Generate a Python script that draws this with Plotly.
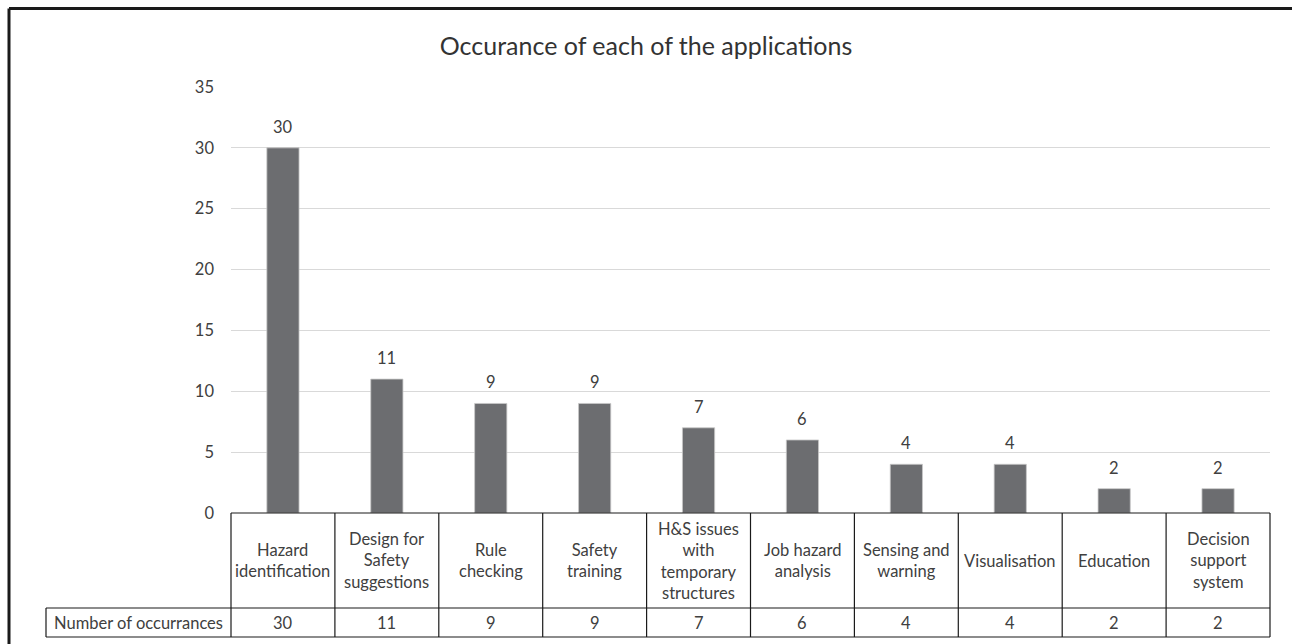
import plotly.graph_objects as go

categories = ["Hazard<br>identification", "Design for<br>Safety<br>suggestions", "Rule<br>checking",
              "Safety<br>training", "H&S issues<br>with<br>temporary<br>structures", "Job hazard<br>analysis",
              "Sensing and<br>warning", "Visualisation", "Education", "Decision<br>support<br>system"]
values = [30, 11, 9, 9, 7, 6, 4, 4, 2, 2]
series_name = "Number of occurrances"
title = "Occurance of each of the applications"
y_ticks = [0, 5, 10, 15, 20, 25, 30, 35]

W, H = 1292, 644
L, R, T, B = 231, 1270, 87, 513  # plot area in pixels
FONT = "Lato, 'Open Sans', sans-serif"
TXT = "#404040"
FS = 16.5


def px(x):
    return (x - L) / (R - L)


def py(y):
    return (B - y) / (B - T)


idx = list(range(len(categories)))

fig = go.Figure(go.Bar(
    x=idx, y=values, width=0.31,
    marker=dict(color="#6c6d70", line=dict(color="#c8c8c8", width=0.8)),
    hoverinfo="skip",
))

annotations = []
# value labels above bars
for i, v in zip(idx, values):
    annotations.append(dict(x=i, y=v, xref="x", yref="y", text=str(v), showarrow=False,
                            xanchor="center", yanchor="bottom", yshift=9,
                            font=dict(size=FS, color=TXT, family=FONT)))
# category labels and values in the table
for i, c in zip(idx, categories):
    annotations.append(dict(x=i, y=py(560.5), xref="x", yref="paper", text=c, showarrow=False,
                            xanchor="center", yanchor="middle", font=dict(size=FS, color=TXT, family=FONT)))
    annotations.append(dict(x=i, y=py(622.5), xref="x", yref="paper", text=str(values[i]), showarrow=False,
                            xanchor="center", yanchor="middle", font=dict(size=FS, color=TXT, family=FONT)))
annotations.append(dict(x=px(138.5), y=py(622.5), xref="paper", yref="paper", text=series_name,
                        showarrow=False, xanchor="center", yanchor="middle",
                        font=dict(size=FS, color=TXT, family=FONT)))

shapes = []
line = dict(color="#1a1a1a", width=1.2)
# table horizontal lines
shapes.append(dict(type="line", xref="paper", yref="paper", x0=0, x1=1, y0=py(513), y1=py(513), line=line))
shapes.append(dict(type="line", xref="paper", yref="paper", x0=px(46), x1=1, y0=py(608), y1=py(608), line=line))
shapes.append(dict(type="line", xref="paper", yref="paper", x0=px(46), x1=1, y0=py(637), y1=py(637), line=line))
# table vertical lines
for k in range(len(categories) + 1):
    xk = k / len(categories)
    shapes.append(dict(type="line", xref="paper", yref="paper", x0=xk, x1=xk, y0=py(513), y1=py(637), line=line))
shapes.append(dict(type="line", xref="paper", yref="paper", x0=px(46), x1=px(46), y0=py(608), y1=py(637), line=line))
# outer border (top and left)
border = dict(color="#1a1a1a", width=3)
shapes.append(dict(type="line", xref="paper", yref="paper", x0=px(9), x1=px(W + 5), y0=py(8.5), y1=py(8.5), line=border))
shapes.append(dict(type="line", xref="paper", yref="paper", x0=px(9), x1=px(9), y0=py(8.5), y1=py(H + 5), line=border))

fig.update_layout(
    width=W, height=H,
    margin=dict(l=L, r=W - R, t=T, b=H - B, pad=0),
    paper_bgcolor="white", plot_bgcolor="white",
    showlegend=False,
    title=dict(text=title, x=0.5, xanchor="center", y=1 - 46 / H, yanchor="middle",
               font=dict(size=25, color="#333333", family=FONT)),
    xaxis=dict(range=[-0.5, len(categories) - 0.5], showticklabels=False, showgrid=False,
               zeroline=False, showline=False, ticks="", fixedrange=True),
    yaxis=dict(range=[0, 35], tickvals=y_ticks, showgrid=True, gridcolor="#d9d9d9", gridwidth=1.3,
               zeroline=False, showline=False, ticks="", ticklabelstandoff=16,
               tickfont=dict(size=FS, color=TXT, family=FONT), fixedrange=True),
    annotations=annotations,
    shapes=shapes,
)

fig.write_html("out.html", config={"displayModeBar": False},
               post_script="document.body.style.margin='0';document.body.style.overflow='hidden';")
